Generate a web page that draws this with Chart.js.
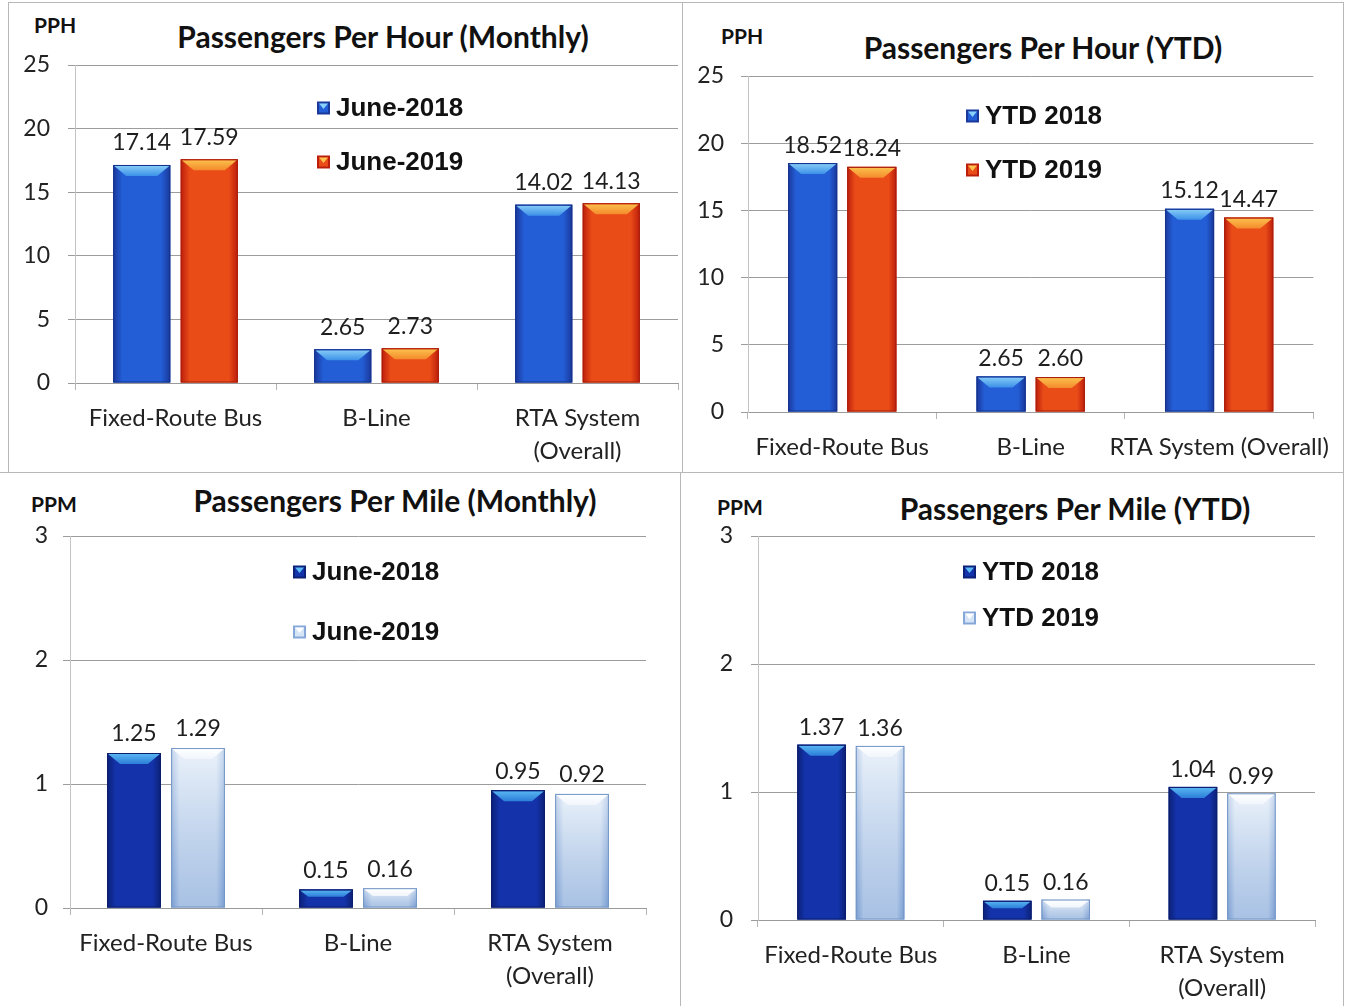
<!DOCTYPE html>
<html><head><meta charset="utf-8">
<script src="https://cdn.jsdelivr.net/npm/chart.js@4.4.0/dist/chart.umd.min.js"></script>
<style>
html,body{margin:0;padding:0;background:#fff;}
body{width:1345px;height:1006px;position:relative;overflow:hidden;font-family:Lato,sans-serif;}
.panel{position:absolute;box-sizing:border-box;border:1px solid #b8b8b8;}
canvas{position:absolute;}
.title{position:absolute;font-family:Lato,sans-serif;font-weight:700;font-size:30px;color:#111;white-space:nowrap;transform:translate(-50%,-50%);}
.unit{position:absolute;font-family:Lato,sans-serif;font-weight:700;font-size:21px;color:#111;white-space:nowrap;transform:translateY(-50%);}
</style></head><body>
<div class="panel" style="left:8px;top:2px;width:675px;height:471px;"></div>
<div class="panel" style="left:682px;top:2px;width:662px;height:471px;"></div>
<div class="panel" style="left:-1px;top:472px;width:682px;height:540px;"></div>
<div class="panel" style="left:680px;top:472px;width:664px;height:540px;"></div>

<div class="unit" style="left:34px;top:24px;">PPH</div>
<div class="title" style="left:383px;top:36px;">Passengers Per Hour (Monthly)</div>
<div class="unit" style="left:721px;top:35px;">PPH</div>
<div class="title" style="left:1043px;top:47px;">Passengers Per Hour (YTD)</div>
<div class="unit" style="left:31px;top:503px;">PPM</div>
<div class="title" style="left:395px;top:500px;">Passengers Per Mile (Monthly)</div>
<div class="unit" style="left:717px;top:506px;">PPM</div>
<div class="title" style="left:1075px;top:508px;">Passengers Per Mile (YTD)</div>

<script>
// ---------- data ----------
const categoriesWrapped = ['Fixed-Route Bus', 'B-Line', ['RTA System', '(Overall)']];
const categoriesSingle = ['Fixed-Route Bus', 'B-Line', 'RTA System (Overall)'];
const monthlySeriesNames = ['June-2018', 'June-2019'];
const ytdSeriesNames = ['YTD 2018', 'YTD 2019'];

const pphMonthly2018 = [17.14, 2.65, 14.02];
const pphMonthly2019 = [17.59, 2.73, 14.13];
const pphYtd2018 = [18.52, 2.65, 15.12];
const pphYtd2019 = [18.24, 2.60, 14.47];
const ppmMonthly2018 = [1.25, 0.15, 0.95];
const ppmMonthly2019 = [1.29, 0.16, 0.92];
const ppmYtd2018 = [1.37, 0.15, 1.04];
const ppmYtd2019 = [1.36, 0.16, 0.99];

const pphAxisMax = 25, pphAxisStep = 5;
const ppmAxisMax = 3, ppmAxisStep = 1;

// ---------- styles ----------
const BLUE = {edge:'#1a379a', mid:'#235ed6', bevelTop:'#8ad0f8', bevelBottom:'#3c90e8', border:'#15328c'};
const ORANGE = {edge:'#bc1e0c', mid:'#ea4c18', bevelTop:'#fcc44e', bevelBottom:'#f48a2c', border:'#a81c0c'};
const NAVY = {edge:'#0b2076', mid:'#1433aa', bevelTop:'#5cbaf4', bevelBottom:'#2c7ed8', border:'#0a1e6c'};
const LIGHT = {edge:'#86a8d8', mid:'#d6e5f6', bevelTop:'#ffffff', bevelBottom:'#f1f6fc', border:'#7496c6', vshade:true};

const barStyle = {
  id: 'barStyle',
  afterDatasetsDraw(chart, args, opts) {
    const ctx = chart.ctx;
    chart.data.datasets.forEach((ds, i) => {
      const st = opts.styles[i];
      chart.getDatasetMeta(i).data.forEach(el => {
        const p = el.getProps(['x', 'y', 'base', 'width'], true);
        const l = p.x - p.width / 2, r = p.x + p.width / 2;
        const t = Math.min(p.y, p.base), b = Math.max(p.y, p.base);
        const w = r - l, h = b - t;
        ctx.save();
        const g = ctx.createLinearGradient(l, 0, r, 0);
        g.addColorStop(0, st.edge); g.addColorStop(0.16, st.mid);
        g.addColorStop(0.84, st.mid); g.addColorStop(1, st.edge);
        ctx.fillStyle = g; ctx.fillRect(l, t, w, h);
        if (st.vshade) {
          const vg = ctx.createLinearGradient(0, t, 0, b);
          vg.addColorStop(0, 'rgba(255,255,255,0.5)');
          vg.addColorStop(1, 'rgba(100,140,200,0.4)');
          ctx.fillStyle = vg; ctx.fillRect(l, t, w, h);
        }
        const d = Math.min(opts.bevel, h * 0.4);
        const bg = ctx.createLinearGradient(0, t, 0, t + d);
        bg.addColorStop(0, st.bevelTop); bg.addColorStop(1, st.bevelBottom);
        ctx.beginPath();
        ctx.moveTo(l + 1, t + 1); ctx.lineTo(r - 1, t + 1);
        ctx.lineTo(r - d - 2, t + d); ctx.lineTo(l + d + 2, t + d); ctx.closePath();
        ctx.fillStyle = bg; ctx.fill();
        ctx.strokeStyle = st.border; ctx.lineWidth = 1;
        ctx.strokeRect(l + 0.5, t + 0.5, w - 1, h - 1);
        ctx.restore();
      });
    });
  }
};

const valueLabels = {
  id: 'valueLabels',
  afterDatasetsDraw(chart, args, opts) {
    const ctx = chart.ctx;
    ctx.save();
    ctx.font = opts.font;
    ctx.fillStyle = '#1e1e1e';
    ctx.textAlign = 'center';
    ctx.textBaseline = 'middle';
    chart.data.datasets.forEach((ds, i) => {
      chart.getDatasetMeta(i).data.forEach((el, j) => {
        const p = el.getProps(['x', 'y'], true);
        ctx.fillText(ds.data[j].toFixed(2), p.x, p.y - opts.offset);
      });
    });
    ctx.restore();
  }
};

const innerLegend = {
  id: 'innerLegend',
  afterDraw(chart, args, opts) {
    const ctx = chart.ctx;
    ctx.save();
    ctx.font = opts.font;
    ctx.textBaseline = 'middle';
    ctx.textAlign = 'left';
    chart.data.datasets.forEach((ds, i) => {
      const st = opts.styles[i];
      const y = opts.ys[i];
      const s = 13;
      const sx = opts.x, sy = y - s / 2;
      ctx.fillStyle = st.edge; ctx.fillRect(sx, sy, s, s);
      ctx.fillStyle = st.mid; ctx.fillRect(sx + 2, sy + 2, s - 4, s - 4);
      ctx.fillStyle = st.bevelTop;
      ctx.beginPath(); ctx.moveTo(sx + 2, sy + 2); ctx.lineTo(sx + s - 2, sy + 2);
      ctx.lineTo(sx + s / 2, sy + s / 2 + 1); ctx.closePath(); ctx.fill();
      ctx.fillStyle = '#111';
      ctx.fillText(ds.label, opts.textX, y + 1);
    });
    ctx.restore();
  }
};

function makeChart(cfg) {
  const cv = document.createElement('canvas');
  cv.width = cfg.w; cv.height = cfg.h;
  cv.style.left = cfg.left + 'px'; cv.style.top = cfg.top + 'px';
  cv.style.width = cfg.w + 'px'; cv.style.height = cfg.h + 'px';
  document.body.appendChild(cv);
  const tickFont = {family: 'Lato', size: 24, lineHeight: 1.4};
  return new Chart(cv.getContext('2d'), {
    type: 'bar',
    data: {
      labels: cfg.labels,
      datasets: [
        {label: cfg.names[0], data: cfg.s1, backgroundColor: cfg.styles[0].mid, borderWidth: 0,
         categoryPercentage: cfg.catPct, barPercentage: cfg.barPct},
        {label: cfg.names[1], data: cfg.s2, backgroundColor: cfg.styles[1].mid, borderWidth: 0,
         categoryPercentage: cfg.catPct, barPercentage: cfg.barPct}
      ]
    },
    options: {
      responsive: false,
      animation: false,
      devicePixelRatio: 1,
      layout: {autoPadding: false, padding: {left: 0, top: cfg.area.t, right: cfg.w - cfg.area.r, bottom: 0}},
      scales: {
        x: {
          offset: true,
          grid: {display: true, drawOnChartArea: false, drawTicks: true, tickLength: 7, color: '#b4b4b4', offset: true},
          border: {display: true, color: '#9a9a9a'},
          ticks: {font: tickFont, color: '#222', padding: cfg.xPad, maxRotation: 0, minRotation: 0, autoSkip: false},
          afterFit(s) { s.height = cfg.h - cfg.area.b; }
        },
        y: {
          min: 0, max: cfg.yMax,
          ticks: {stepSize: cfg.yStep, font: {family: 'Lato', size: 23}, color: '#222', padding: cfg.yPad},
          grid: {color: '#9c9c9c', tickLength: 7, drawTicks: true},
          border: {display: true, color: '#c4c4c4'},
          afterFit(s) { s.width = cfg.area.l; }
        }
      },
      plugins: {
        legend: {display: false},
        tooltip: {enabled: false},
        title: {display: false},
        barStyle: {styles: cfg.styles, bevel: 11},
        valueLabels: {font: '23px Lato', offset: cfg.valOff},
        innerLegend: {styles: cfg.styles, x: cfg.legend.x, textX: cfg.legend.tx, ys: cfg.legend.ys, font: 'bold 26px "Liberation Sans"'}
      }
    },
    plugins: [barStyle, valueLabels, innerLegend]
  });
}

makeChart({left: 0, top: 0, w: 682, h: 472, labels: categoriesWrapped, names: monthlySeriesNames,
  s1: pphMonthly2018, s2: pphMonthly2019, styles: [BLUE, ORANGE], yMax: pphAxisMax, yStep: pphAxisStep,
  area: {l: 75, r: 678, t: 65, b: 383}, yPad: 18, xPad: 11, catPct: 0.672, barPct: 0.845, valOff: 22,
  legend: {x: 317, tx: 336, ys: [108, 162]}});

makeChart({left: 682, top: 0, w: 663, h: 472, labels: categoriesSingle, names: ytdSeriesNames,
  s1: pphYtd2018, s2: pphYtd2019, styles: [BLUE, ORANGE], yMax: pphAxisMax, yStep: pphAxisStep,
  area: {l: 66, r: 632, t: 76, b: 412}, yPad: 17, xPad: 11, catPct: 0.628, barPct: 0.83, valOff: 18,
  legend: {x: 284, tx: 303, ys: [116, 170]}});

makeChart({left: 0, top: 472, w: 680, h: 534, labels: categoriesWrapped, names: monthlySeriesNames,
  s1: ppmMonthly2018, s2: ppmMonthly2019, styles: [NAVY, LIGHT], yMax: ppmAxisMax, yStep: ppmAxisStep,
  area: {l: 70, r: 646, t: 64, b: 436}, yPad: 15, xPad: 11, catPct: 0.667, barPct: 0.84, valOff: 19,
  legend: {x: 293, tx: 312, ys: [100, 160]}});

makeChart({left: 680, top: 472, w: 665, h: 534, labels: categoriesWrapped, names: ytdSeriesNames,
  s1: ppmYtd2018, s2: ppmYtd2019, styles: [NAVY, LIGHT], yMax: ppmAxisMax, yStep: ppmAxisStep,
  area: {l: 78, r: 635, t: 64, b: 448}, yPad: 18, xPad: 11, catPct: 0.63, barPct: 0.83, valOff: 17,
  legend: {x: 283, tx: 302, ys: [100, 146]}});
</script>
</body></html>
